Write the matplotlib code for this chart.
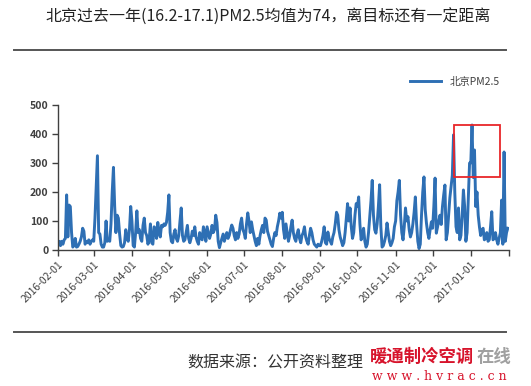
import numpy as np
import matplotlib
matplotlib.use("Agg")
import matplotlib.pyplot as plt
import matplotlib.dates as mdates
from matplotlib.patches import Rectangle
from matplotlib.lines import Line2D

plt.rcParams['font.family'] = ['Noto Sans CJK SC', 'DejaVu Sans']

# daily PM2.5, 2016-02-01 .. 2017-01-31
feb = [25, 30, 15, 30, 20, 35, 40, 190, 45, 155, 150, 60, 10, 15, 40, 10, 12, 20, 30, 45,
       75, 65, 20, 30, 25, 35, 20, 30, 35]
mar = [30, 110, 220, 325, 60, 55, 20, 10, 10, 25, 100, 30, 35, 30, 90, 200, 285, 150, 60, 120,
       110, 55, 15, 10, 12, 25, 70, 40, 30, 70, 150]
apr = [100, 15, 10, 60, 135, 60, 70, 40, 30, 85, 110, 60, 50, 20, 35, 90, 25, 20, 80, 75,
       40, 95, 60, 45, 85, 80, 90, 85, 95, 130]
may = [190, 60, 30, 25, 55, 70, 40, 30, 50, 100, 145, 50, 30, 35, 60, 85, 40, 25, 40, 65,
       50, 80, 45, 30, 20, 60, 40, 35, 80, 60, 30]
jun = [80, 60, 40, 55, 85, 60, 70, 120, 95, 30, 8, 25, 40, 55, 30, 45, 60, 40, 50, 70,
       86, 75, 50, 35, 60, 40, 55, 90, 110, 70]
jul = [60, 40, 90, 128, 100, 60, 97, 70, 50, 30, 15, 40, 20, 50, 70, 85, 60, 110, 103, 65,
       50, 35, 20, 12, 40, 60, 50, 80, 100, 127, 110]
aug = [130, 70, 40, 90, 60, 30, 50, 80, 103, 60, 40, 30, 55, 70, 40, 25, 50, 60, 80, 45,
       30, 20, 50, 75, 60, 35, 20, 15, 10, 20, 15]
sep = [15, 30, 50, 80, 25, 20, 62, 40, 30, 20, 45, 60, 90, 130, 120, 70, 45, 30, 15, 25,
       60, 110, 160, 100, 145, 80, 40, 60, 120, 160]
oct_ = [150, 183, 90, 35, 50, 75, 30, 10, 20, 60, 115, 170, 240, 120, 70, 58, 90, 150, 225, 80,
        10, 15, 30, 50, 93, 60, 30, 15, 25, 40, 80]
nov = [100, 170, 200, 240, 120, 60, 35, 80, 145, 100, 115, 70, 45, 60, 90, 130, 183, 90, 30, 5,
       20, 120, 200, 252, 140, 93, 60, 40, 70, 97]
dec = [75, 150, 248, 58, 80, 100, 120, 88, 150, 190, 224, 35, 60, 120, 180, 218, 258, 397, 200, 80,
       60, 145, 35, 50, 120, 207, 150, 30, 60, 180, 300]
jan = [300, 431, 250, 345, 150, 200, 120, 80, 50, 70, 75, 35, 40, 60, 30, 35, 80, 132, 35, 40,
       60, 35, 20, 40, 60, 172, 20, 338, 30, 60, 75]

pm25 = feb + mar + apr + may + jun + jul + aug + sep + oct_ + nov + dec + jan
dates = np.arange('2016-02-01', '2017-02-01', dtype='datetime64[D]')

tick_dates = ['2016-02-01', '2016-03-01', '2016-04-01', '2016-05-01', '2016-06-01', '2016-07-01',
              '2016-08-01', '2016-09-01', '2016-10-01', '2016-11-01', '2016-12-01', '2017-01-01',
              '2017-02-01']
tick_labels = tick_dates[:-1] + ['']
y_ticks = [0, 100, 200, 300, 400, 500]

# highlighted box (heavy smog episode)
box_start, box_end = '2016-12-18', '2017-01-25'
box_low, box_high = 252, 431

title = '北京过去一年(16.2-17.1)PM2.5均值为74，离目标还有一定距离'
W, H = 531, 386

fig = plt.figure(figsize=(W / 100, H / 100), dpi=100)
ax = fig.add_axes([58 / W, 1 - 250 / H, (509 - 58) / W, 145 / H])

ax.plot(dates, pm25, color='#2E6FB4', lw=2.1, label='北京PM2.5')

ax.set_xlim(np.datetime64('2016-02-01'), np.datetime64('2017-02-01'))
ax.set_ylim(0, 500)
ax.set_yticks(y_ticks)
ax.set_yticklabels([str(v) for v in y_ticks], fontsize=7.5, color='#404040', fontweight='bold')
ax.set_xticks([np.datetime64(d) for d in tick_dates])
ax.set_xticklabels(tick_labels, rotation=45, ha='right', rotation_mode='anchor',
                   fontsize=7.5, color='#404040')
ax.tick_params(axis='both', length=4, width=1, color='#404040', pad=3)

for s in ['top', 'right']:
    ax.spines[s].set_visible(False)
for s in ['left', 'bottom']:
    ax.spines[s].set_color('#404040')
    ax.spines[s].set_linewidth(1)

x0 = mdates.date2num(np.datetime64(box_start))
x1 = mdates.date2num(np.datetime64(box_end))
ax.add_patch(Rectangle((x0, box_low), x1 - x0, box_high - box_low,
                       fill=False, edgecolor='#E8262A', lw=1.3, zorder=5))

ax.legend(loc='upper right', bbox_to_anchor=(1.0, 1.26), frameon=False,
          handlelength=3.0, fontsize=7.5, labelcolor='#404040')

# title and rules
fig.text(268 / W, 1 - 17 / H, title, ha='center', va='center', fontsize=11.5, color='#222222')
fig.add_artist(Line2D([14 / W, 506 / W], [1 - 50 / H] * 2, color='#555555', lw=1.4))
fig.add_artist(Line2D([14 / W, 506 / W], [1 - 332 / H] * 2, color='#555555', lw=1.4))

# footer
fig.text(275 / W, 1 - 363 / H, '数据来源：公开资料整理', ha='center', va='center',
         fontsize=11.5, color='#333333')
fig.text(370 / W, 1 - 357 / H, '暖通制冷空调', ha='left', va='center',
         fontsize=12.5, fontweight='bold', color='#D7132B')
fig.text(477 / W, 1 - 357 / H, '在线', ha='left', va='center',
         fontsize=12.5, fontweight='bold', color='#A0A0A0')
fig.text(372 / W, 1 - 376 / H, 'w w w . h v r a c . c n', ha='left', va='center',
         fontsize=9, color='#D7132B', family='DejaVu Serif')

fig.savefig('out.png', dpi=100)
